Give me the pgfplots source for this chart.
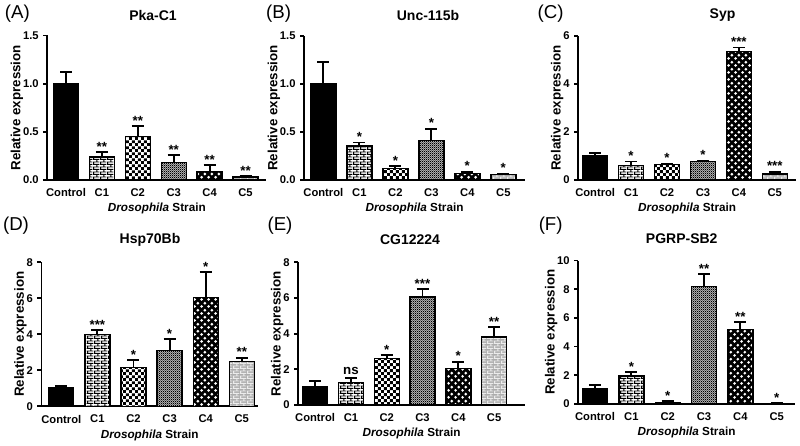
\documentclass[border=0pt]{standalone}
\usepackage{fontspec}
\setmainfont{Liberation Sans}
\usepackage{pgfplots}
\pgfplotsset{compat=1.18}
\usetikzlibrary{patterns}

% bar fills
\pgfdeclarepatternformonly{mybricks}{\pgfqpoint{0pt}{0pt}}{\pgfqpoint{5pt}{4pt}}{\pgfqpoint{5pt}{4pt}}{%
  \pgfsetlinewidth{0.7pt}%
  \pgfpathmoveto{\pgfqpoint{0pt}{0.5pt}}\pgfpathlineto{\pgfqpoint{5pt}{0.5pt}}%
  \pgfpathmoveto{\pgfqpoint{0pt}{2.5pt}}\pgfpathlineto{\pgfqpoint{5pt}{2.5pt}}%
  \pgfpathmoveto{\pgfqpoint{0.5pt}{0.5pt}}\pgfpathlineto{\pgfqpoint{0.5pt}{2.5pt}}%
  \pgfpathmoveto{\pgfqpoint{3pt}{2.5pt}}\pgfpathlineto{\pgfqpoint{3pt}{4pt}}%
  \pgfpathmoveto{\pgfqpoint{3pt}{0pt}}\pgfpathlineto{\pgfqpoint{3pt}{0.5pt}}%
  \pgfusepath{stroke}}
\pgfdeclarepatternformonly{mychecker}{\pgfqpoint{0pt}{0pt}}{\pgfqpoint{4.4pt}{4.4pt}}{\pgfqpoint{4.4pt}{4.4pt}}{%
  \pgfpathrectangle{\pgfqpoint{0pt}{0pt}}{\pgfqpoint{2.2pt}{2.2pt}}%
  \pgfpathrectangle{\pgfqpoint{2.2pt}{2.2pt}}{\pgfqpoint{2.2pt}{2.2pt}}%
  \pgfusepath{fill}}
\pgfdeclarepatternformonly{myfine}{\pgfqpoint{0pt}{0pt}}{\pgfqpoint{1.6pt}{1.6pt}}{\pgfqpoint{1.6pt}{1.6pt}}{%
  \pgfpathrectangle{\pgfqpoint{0pt}{0pt}}{\pgfqpoint{0.8pt}{0.8pt}}%
  \pgfpathrectangle{\pgfqpoint{0.8pt}{0.8pt}}{\pgfqpoint{0.8pt}{0.8pt}}%
  \pgfusepath{fill}}
\pgfdeclarepatternformonly{mydots}{\pgfqpoint{0pt}{0pt}}{\pgfqpoint{5pt}{5pt}}{\pgfqpoint{5pt}{5pt}}{%
  \pgfpathcircle{\pgfqpoint{1.25pt}{1.25pt}}{1.15pt}%
  \pgfpathcircle{\pgfqpoint{3.75pt}{3.75pt}}{1.15pt}%
  \pgfusepath{fill}}

\pgfplotsset{
  panel/.style={
    scale only axis, anchor=south west, clip=false,
    ybar, bar width=18.75pt, ymin=0,
    axis x line*=bottom, axis y line*=left,
    axis line style={line width=1.3pt},
    xtick={0,...,5}, xticklabels={Control,C1,C2,C3,C4,C5},
    x tick style={draw=none},
    y tick style={line width=1.3pt, black},
    tick align=outside, major tick length=3pt,
    ticklabel style={font=\bfseries\fontsize{8.4}{9}\selectfont},
    /pgf/number format/assume math mode=true,
    xlabel={\textit{Drosophila} Strain},
    ylabel={Relative expression},
    xlabel style={font=\bfseries\fontsize{8.8}{10}\selectfont, yshift=2pt},
    ylabel style={font=\bfseries\fontsize{10}{11}\selectfont, yshift=-7pt},
    error bars/y dir=plus, error bars/y explicit,
    error bars/error mark=|,
    error bars/error bar style={line width=1.4pt, black},
    error bars/error mark options={line width=1.4pt, black, mark size=4.5pt},
  },
  bar0/.style={bar shift=0pt, draw=black, line width=1pt, fill=black},
  bar1/.style={bar shift=0pt, draw=black, line width=1pt, fill=white, postaction={pattern=mybricks}},
  bar2/.style={bar shift=0pt, draw=black, line width=1pt, fill=white, postaction={pattern=mychecker}},
  bar3/.style={bar shift=0pt, draw=black, line width=1pt, fill=gray!55, postaction={pattern=myfine}},
  bar4/.style={bar shift=0pt, draw=black, line width=1pt, fill=black, postaction={pattern=mydots, pattern color=white}},
  bar5/.style={bar shift=0pt, draw=black, line width=1pt, fill=gray!65, postaction={pattern=mybricks, pattern color=gray!15}},
}
\tikzset{
  sig/.style={anchor=south, inner sep=0pt, yshift=0.5pt, font=\bfseries\fontsize{10}{10}\selectfont},
  ttl/.style={font=\bfseries\fontsize{10.5}{12}\selectfont},
  plab/.style={font=\fontsize{14}{16}\selectfont},
}

\begin{document}
\begin{tikzpicture}
\path[use as bounding box] (0,0) rectangle (600pt,-334.5pt);

% (A) Pka-C1
\begin{axis}[panel, at={(35.5pt,-135pt)}, width=164.25pt, height=108.4pt,
    xmin=-0.52, xmax=5.58, ymax=1.5, ytick={0,0.5,1,1.5},
    yticklabel style={/pgf/number format/.cd, fixed, fixed zerofill, precision=1}]
\addplot[bar0] coordinates {(0,1.00) +- (0,0.124)};
\addplot[bar1] coordinates {(1,0.24) +- (0,0.05)};
\addplot[bar2] coordinates {(2,0.45) +- (0,0.11)};
\addplot[bar3] coordinates {(3,0.18) +- (0,0.08)};
\addplot[bar4] coordinates {(4,0.09) +- (0,0.062)};
\addplot[bar5] coordinates {(5,0.03) +- (0,0.01)};
\node[sig] at (axis cs:1,0.29) {**};
\node[sig] at (axis cs:2,0.56) {**};
\node[sig] at (axis cs:3,0.26) {**};
\node[sig] at (axis cs:4,0.152) {**};
\node[sig] at (axis cs:5,0.04) {**};
\end{axis}

% (B) Unc-115b
\begin{axis}[panel, at={(228.2pt,-135pt)}, width=165.5pt, height=108pt,
    xmin=-0.53, xmax=5.6, ymax=1.5, ytick={0,0.5,1,1.5},
    yticklabel style={/pgf/number format/.cd, fixed, fixed zerofill, precision=1}]
\addplot[bar0] coordinates {(0,1.00) +- (0,0.225)};
\addplot[bar1] coordinates {(1,0.353) +- (0,0.037)};
\addplot[bar2] coordinates {(2,0.118) +- (0,0.025)};
\addplot[bar3] coordinates {(3,0.41) +- (0,0.124)};
\addplot[bar4] coordinates {(4,0.07) +- (0,0.017)};
\addplot[bar5] coordinates {(5,0.06) +- (0,0.004)};
\node[sig] at (axis cs:1,0.39) {*};
\node[sig] at (axis cs:2,0.143) {*};
\node[sig] at (axis cs:3,0.534) {*};
\node[sig] at (axis cs:4,0.087) {*};
\node[sig] at (axis cs:5,0.064) {*};
\end{axis}

% (C) Syp
\begin{axis}[panel, at={(433.7pt,-135pt)}, width=163.3pt, height=108pt,
    xmin=-0.47, xmax=5.59, ymax=6, ytick={0,2,4,6}]
\addplot[bar0] coordinates {(0,1.01) +- (0,0.1)};
\addplot[bar1] coordinates {(1,0.60) +- (0,0.17)};
\addplot[bar2] coordinates {(2,0.64) +- (0,0.03)};
\addplot[bar3] coordinates {(3,0.76) +- (0,0.04)};
\addplot[bar4] coordinates {(4,5.35) +- (0,0.17)};
\addplot[bar5] coordinates {(5,0.25) +- (0,0.1)};
\node[sig] at (axis cs:1,0.77) {*};
\node[sig] at (axis cs:2,0.67) {*};
\node[sig] at (axis cs:3,0.80) {*};
\node[sig] at (axis cs:4,5.52) {***};
\node[sig] at (axis cs:5,0.35) {***};
\end{axis}

% (D) Hsp70Bb
\begin{axis}[panel, at={(31.1pt,-304.7pt)}, width=162.4pt, height=108pt,
    xmin=-0.55, xmax=5.45, ymax=8, ytick={0,2,4,6,8}]
\addplot[bar0] coordinates {(0,1.05) +- (0,0.1)};
\addplot[bar1] coordinates {(1,4.00) +- (0,0.24)};
\addplot[bar2] coordinates {(2,2.17) +- (0,0.38)};
\addplot[bar3] coordinates {(3,3.09) +- (0,0.63)};
\addplot[bar4] coordinates {(4,6.05) +- (0,1.39)};
\addplot[bar5] coordinates {(5,2.50) +- (0,0.2)};
\node[sig] at (axis cs:1,4.24) {***};
\node[sig] at (axis cs:2,2.55) {*};
\node[sig] at (axis cs:3,3.72) {*};
\node[sig] at (axis cs:4,7.44) {*};
\node[sig] at (axis cs:5,2.70) {**};
\end{axis}

% (E) CG12224
\begin{axis}[panel, at={(223.7pt,-303.75pt)}, width=170pt, height=107pt,
    xmin=-0.47, xmax=5.86, ymax=8, ytick={0,2,4,6,8}]
\addplot[bar0] coordinates {(0,1.03) +- (0,0.33)};
\addplot[bar1] coordinates {(1,1.27) +- (0,0.23)};
\addplot[bar2] coordinates {(2,2.60) +- (0,0.2)};
\addplot[bar3] coordinates {(3,6.06) +- (0,0.43)};
\addplot[bar4] coordinates {(4,2.06) +- (0,0.37)};
\addplot[bar5] coordinates {(5,3.81) +- (0,0.55)};
\node[sig, yshift=2pt] at (axis cs:1,1.50) {ns};
\node[sig] at (axis cs:2,2.80) {*};
\node[sig] at (axis cs:3,6.49) {***};
\node[sig] at (axis cs:4,2.43) {*};
\node[sig] at (axis cs:5,4.36) {**};
\end{axis}

% (F) PGRP-SB2
\begin{axis}[panel, at={(433.7pt,-303pt)}, width=162.5pt, height=107.6pt,
    xmin=-0.46, xmax=5.5, ymax=10, ytick={0,2,4,6,8,10}]
\addplot[bar0] coordinates {(0,1.05) +- (0,0.3)};
\addplot[bar1] coordinates {(1,1.95) +- (0,0.28)};
\addplot[bar2] coordinates {(2,0.12) +- (0,0.06)};
\addplot[bar3] coordinates {(3,8.19) +- (0,0.86)};
\addplot[bar4] coordinates {(4,5.19) +- (0,0.53)};
\addplot[bar5] coordinates {(5,0.05) +- (0,0.01)};
\node[sig] at (axis cs:1,2.23) {*};
\node[sig] at (axis cs:2,0.18) {*};
\node[sig] at (axis cs:3,9.05) {**};
\node[sig] at (axis cs:4,5.72) {**};
\node[sig] at (axis cs:5,0.06) {*};
\end{axis}

% titles and panel letters
\node[ttl] at (114.75pt,-11.25pt) {Pka-C1};
\node[ttl] at (321pt,-11.25pt) {Unc-115b};
\node[ttl] at (541.9pt,-11.25pt) {Syp};
\node[ttl] at (112.5pt,-180pt) {Hsp70Bb};
\node[ttl] at (307.5pt,-180pt) {CG12224};
\node[ttl] at (511.3pt,-178.7pt) {PGRP-SB2};
\node[plab] at (13pt,-10.5pt) {(A)};
\node[plab] at (209pt,-10.5pt) {(B)};
\node[plab] at (413pt,-10.5pt) {(C)};
\node[plab] at (12pt,-169pt) {(D)};
\node[plab] at (210pt,-169pt) {(E)};
\node[plab] at (413pt,-169pt) {(F)};
\end{tikzpicture}
\end{document}
